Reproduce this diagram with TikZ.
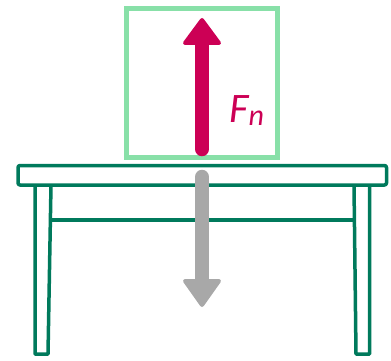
\documentclass[tikz,border=0pt]{standalone}
\usepackage{xcolor}
\usepackage{fontspec}
\usepackage{tikz}
\newfontfamily\lblfont{Carlito}
\definecolor{boxgreen}{RGB}{136,224,168}
\definecolor{tablegreen}{RGB}{0,122,92}
\definecolor{forcered}{RGB}{204,0,85}
\definecolor{weightgray}{RGB}{168,168,168}

\begin{document}
\begin{tikzpicture}[
  x=1pt, y=-1pt,
  crate/.style={draw=boxgreen, line width=5pt},
  table/.style={draw=tablegreen, line width=3.5pt, line join=round},
  shaft/.style={line width=14.5pt, line cap=round},
  head/.style={line width=4pt, line join=round}
]
\useasboundingbox (0,0) rectangle (391,361);
% box resting on the table
\draw[crate] (126,9) rectangle (277,157.5);
% table top, legs and crossbar
\draw[table, rounded corners=2pt] (18,165.5) rectangle (386.5,185);
\draw[table] (35,185) -- (35,354) -- (48,354) -- (51,185);
\draw[table] (369.5,185) -- (369.5,354) -- (356,354) -- (354,185);
\draw[table] (50.5,220) -- (354.5,220);
% normal force
\coordinate (Fn-base) at (202,149);
\coordinate (Fn-neck) at (202,43);
\coordinate (Fn-tip) at (202,20);
\draw[shaft, forcered] (Fn-base) -- (Fn-neck);
\filldraw[head, draw=forcered, fill=forcered] (Fn-tip) -- ++(-17,23) -- ++(34,0) -- cycle;
\node[anchor=base west, inner sep=0pt, text=forcered] (Fn-label) at (229,122)
  {\lblfont\itshape\fontsize{42}{44}\selectfont F\raisebox{-3pt}{\fontsize{30}{32}\selectfont n}};
% weight
\coordinate (W-base) at (202,177);
\coordinate (W-neck) at (202,281);
\coordinate (W-tip) at (202,305);
\draw[shaft, weightgray] (W-base) -- (W-neck);
\filldraw[head, draw=weightgray, fill=weightgray] (W-tip) -- ++(-17,-24) -- ++(34,0) -- cycle;
\end{tikzpicture}
\end{document}
